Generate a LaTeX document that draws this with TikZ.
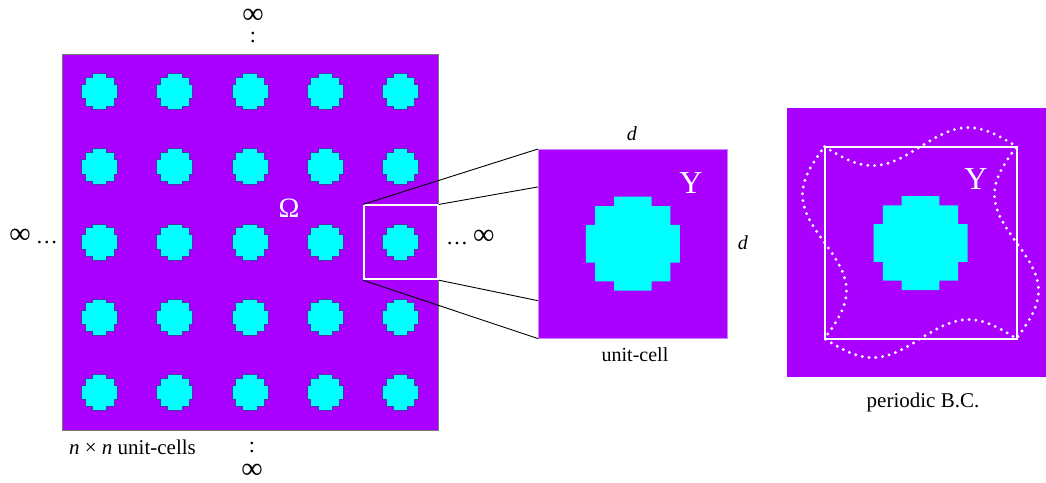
\documentclass[tikz,border=0pt]{standalone}
\usepackage{fontspec}
\setmainfont{Liberation Serif}
\usetikzlibrary{calc}
\definecolor{matrixpurple}{RGB}{170,0,255}
\definecolor{inclusion}{RGB}{0,255,255}
\definecolor{inclusionedge}{RGB}{80,50,170}
\definecolor{celledge}{RGB}{200,130,255}
\begin{document}
\begin{tikzpicture}[x=1pt,y=-1pt,
  disk/.pic={
    \path[pic actions] (-0.4,-1) -- (0.4,-1) -- (0.4,-0.8) -- (0.8,-0.8) -- (0.8,-0.4)
      -- (1,-0.4) -- (1,0.4) -- (0.8,0.4) -- (0.8,0.8) -- (0.4,0.8) -- (0.4,1)
      -- (-0.4,1) -- (-0.4,0.8) -- (-0.8,0.8) -- (-0.8,0.4) -- (-1,0.4) -- (-1,-0.4)
      -- (-0.8,-0.4) -- (-0.8,-0.8) -- (-0.4,-0.8) -- cycle;
  },
  diskstyle/.style={fill=inclusion, draw=inclusionedge, line width=0.8pt},
  panel/.style={fill=matrixpurple, inner sep=0pt},
  frame/.style={draw=white, inner sep=0pt},
  link/.style={draw=black, line width=0.9pt},
  lbl/.style={inner sep=0pt, font=\fontsize{20}{24}\selectfont},
  wide/.style={inner sep=0pt, font=\fontsize{21}{24}\selectfont},
  infmark/.style={inner sep=0pt, align=center},
  bcdots/.style={draw=white, line width=3.2pt, line cap=round, dash pattern=on 0pt off 6.8pt},
]
\useasboundingbox (0,0) rectangle (1046,482);

% composite domain: n x n cells
\node[panel, draw={rgb,255:red,120;green,120;blue,120}, line width=0.8pt, minimum size=376pt] (omega) at (250,242) {};
\foreach \i in {0,...,4}
  \foreach \j in {0,...,4}
    \pic[diskstyle, scale=18] (g\i\j) at ({99.6+75.2*\i},{91.6+75.2*\j}) {disk};
\node[frame, line width=1.8pt, minimum size=74pt] (hl) at (401,242.3) {};
\node[inner sep=0pt, text=white, font=\fontsize{28}{30}\selectfont] (om) at (289,208) {Ω};

% infinite extent marks
\node[infmark, font=\fontsize{22}{19}\selectfont] (inftop) at (253,26)
  {{\fontsize{30}{19}\selectfont ∞}\\:};
\node[infmark, font=\fontsize{22}{26}\selectfont] (infbot) at (252,460)
  {:\\{\fontsize{30}{26}\selectfont ∞}};
\node[inner sep=0pt, anchor=base east, font=\fontsize{30}{32}\selectfont] (infleft) at (58,243)
  {∞\,{\fontsize{22}{24}\selectfont …}};
\node[inner sep=0pt, anchor=base west, font=\fontsize{30}{32}\selectfont] (infright) at (446,244)
  {{\fontsize{22}{24}\selectfont …}\,∞};
\node[wide] (ncells) at (132.5,447) {\textit{n} × \textit{n} unit-cells};

% zoom lines to the unit cell
\node[panel, draw=celledge, line width=0.6pt, minimum size=189pt] (uc) at (632.8,243.8) {};
\draw[link] (hl.north west) -- (uc.north west);
\draw[link] (hl.north east) -- ($(uc.north west)!0.2!(uc.south west)$);
\draw[link] (hl.south east) -- ($(uc.north west)!0.8!(uc.south west)$);
\draw[link] (hl.south west) -- (uc.south west);
\pic[fill=inclusion, scale=47] (ucdisk) at (632.8,243.7) {disk};
\node[inner sep=0pt, text=white, font=\fontsize{32}{36}\selectfont] (ucY) at (691,183) {Y};
\node[lbl] (dtop) at (632,134) {\textit{d}};
\node[lbl] (dright) at (743,243) {\textit{d}};
\node[lbl] (uclabel) at (635,355) {unit-cell};

% periodic boundary conditions
\node[panel, minimum width=259pt, minimum height=269pt] (pbg) at (916.5,242.2) {};
\node[frame, line width=2pt, minimum size=192pt] (pc) at (920.5,242.6) {};
\pic[fill=inclusion, scale=47] (pcdisk) at (920.5,243) {disk};
\node[inner sep=0pt, text=white, font=\fontsize{32}{36}\selectfont] (pcY) at (976,179) {Y};
\draw[bcdots, variable=\t, domain=0:1, samples=73]
  plot ({824.5+192*\t},{146.6+19*sin(360*\t)})
  -- plot ({1016.5-22*sin(360*\t)},{146.6+192*\t})
  -- plot ({1016.5-192*\t},{338.6-19*sin(360*\t)})
  -- plot ({824.5+22*sin(360*\t)},{338.6-192*\t}) -- cycle;
\node[wide] (pclabel) at (923,402) {periodic B.C.};
\end{tikzpicture}
\end{document}
